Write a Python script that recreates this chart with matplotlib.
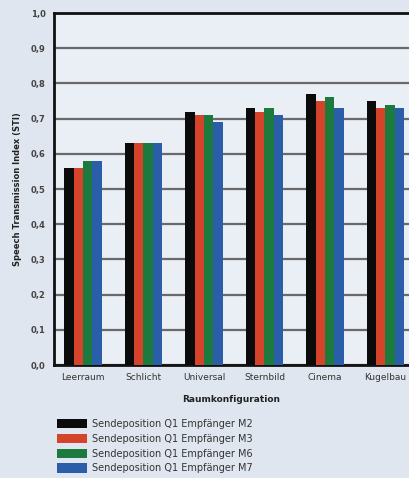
import numpy as np
import matplotlib
matplotlib.use('Agg')
import matplotlib.pyplot as plt
from matplotlib.patches import Patch

plt.rcParams['font.family'] = ['Liberation Sans Narrow', 'DejaVu Sans']

# data
rooms = ['Leerraum', 'Schlicht', 'Universal', 'Sternbild', 'Cinema', 'Kugelbau']
series_names = ['Sendeposition Q1 Empfänger M2', 'Sendeposition Q1 Empfänger M3',
                'Sendeposition Q1 Empfänger M6', 'Sendeposition Q1 Empfänger M7']
sti_m2 = [0.56, 0.63, 0.72, 0.73, 0.77, 0.75]
sti_m3 = [0.56, 0.63, 0.71, 0.72, 0.75, 0.73]
sti_m6 = [0.58, 0.63, 0.71, 0.73, 0.76, 0.74]
sti_m7 = [0.58, 0.63, 0.69, 0.71, 0.73, 0.73]
yticks = [0.0, 0.1, 0.2, 0.3, 0.4, 0.5, 0.6, 0.7, 0.8, 0.9, 1.0]

colors = ['#0b0b0b', '#d6432b', '#1d7a3e', '#2b5ea9']
bg = '#e0e6ef'

fig = plt.figure(figsize=(4.09, 4.78), dpi=100, facecolor=bg)
ax = fig.add_axes([0.132, 0.2364, 0.868, 0.7364])
ax.set_facecolor('#eaeef5')

x = np.arange(len(rooms))
w = 0.155
for i, vals in enumerate([sti_m2, sti_m3, sti_m6, sti_m7]):
    ax.bar(x + (i - 1.5) * w, vals, width=w, color=colors[i], zorder=3)

ax.set_xlim(-0.48, 5.39)
ax.set_ylim(0, 1.0)
ax.set_yticks(yticks)
ax.set_yticklabels([f'{v:.1f}'.replace('.', ',') for v in yticks],
                   fontsize=6, fontweight='bold', color='#444444')
ax.set_xticks(x)
ax.set_xticklabels(rooms, fontsize=6.5, color='#333333')
ax.tick_params(axis='both', length=0, pad=6)
ax.yaxis.grid(True, color='#6a6a6a', linewidth=1.6, zorder=0)
ax.set_axisbelow(True)

for s in ['left', 'bottom', 'top']:
    ax.spines[s].set_color('#111111')
    ax.spines[s].set_linewidth(2)
ax.spines['right'].set_visible(False)

ax.set_ylabel('Speech Transmission Index (STI)', fontsize=6, fontweight='bold',
              color='#222222', labelpad=6)
ax.set_xlabel('Raumkonfiguration', fontsize=6.5, fontweight='bold',
              color='#222222', labelpad=9)

handles = [Patch(facecolor=c, edgecolor='none') for c in colors]
fig.legend(handles, series_names, loc='upper left', bbox_to_anchor=(0.127, 0.134),
           frameon=False, fontsize=7, handlelength=3.1, handleheight=1.1,
           handletextpad=0.55, labelspacing=0.5, borderpad=0, labelcolor='#333333')

fig.savefig('out.png', dpi=100, facecolor=bg)
